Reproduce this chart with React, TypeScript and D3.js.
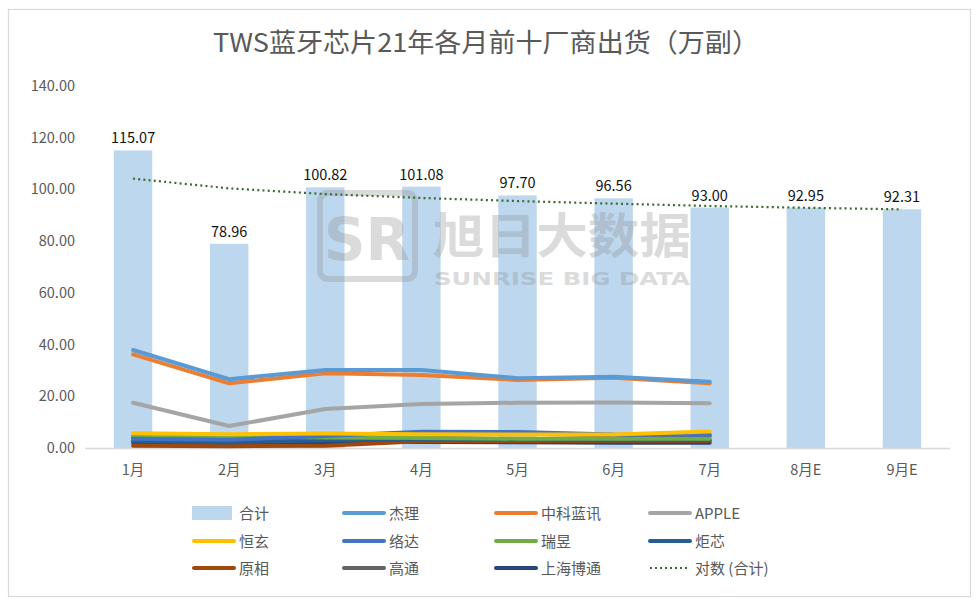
import React from "react";
import * as d3 from "d3";

const categories = ["1月", "2月", "3月", "4月", "5月", "6月", "7月", "8月E", "9月E"];
const totals = [115.07, 78.96, 100.82, 101.08, 97.7, 96.56, 93.0, 92.95, 92.31];
const trendTotals = [104.2, 100.4, 98.2, 96.7, 95.5, 94.5, 93.6, 92.9, 92.3];
const yTicks = [0, 20, 40, 60, 80, 100, 120, 140];

const jieli = [37.9, 26.6, 30.2, 30.2, 27.0, 27.6, 25.6];
const zhongke = [36.2, 25.0, 28.9, 28.2, 26.3, 27.2, 25.0];
const apple = [17.5, 8.5, 15.1, 17.0, 17.5, 17.6, 17.3];
const hengxuan = [5.7, 5.3, 5.6, 5.3, 5.2, 5.2, 6.4];
const luoda = [3.6, 3.2, 4.6, 6.3, 6.2, 5.2, 5.1];
const ruiyu = [4.6, 4.4, 4.1, 3.9, 3.6, 3.6, 3.6];
const juxin = [2.6, 2.2, 3.0, 3.3, 3.4, 3.1, 3.1];
const yuanxiang = [0.9, 0.7, 0.9, 2.6, 2.7, 2.8, 2.8];
const gaotong = [4.0, 3.6, 4.3, 4.8, 5.6, 4.8, 4.6];
const shanghaiBotong = [2.0, 1.6, 2.4, 2.3, 2.2, 2.0, 2.0];

const lineSeries = [
  { name: "杰理", values: jieli, color: "#5B9BD5" },
  { name: "中科蓝讯", values: zhongke, color: "#ED7D31" },
  { name: "APPLE", values: apple, color: "#A5A5A5" },
  { name: "恒玄", values: hengxuan, color: "#FFC000" },
  { name: "络达", values: luoda, color: "#4472C4" },
  { name: "瑞昱", values: ruiyu, color: "#70AD47" },
  { name: "炬芯", values: juxin, color: "#255E91" },
  { name: "原相", values: yuanxiang, color: "#9E480E" },
  { name: "高通", values: gaotong, color: "#636363" },
  { name: "上海博通", values: shanghaiBotong, color: "#264478" },
];

const FONT = "'Noto Sans CJK SC', 'Noto Sans', sans-serif";

export default function App() {
  const x = d3
    .scaleBand<string>()
    .domain(categories)
    .range([85, 950])
    .paddingInner(0.6)
    .paddingOuter(0.3);
  const y = d3.scaleLinear().domain([0, 140]).range([448, 86]);
  const cx = (c: string) => (x(c) as number) + x.bandwidth() / 2;

  const line = d3
    .line<number>()
    .x((_, i) => cx(categories[i]))
    .y((v) => y(v));

  const drawOrder = [...lineSeries].reverse();

  const legendItems = [
    { name: "合计", kind: "bar", color: "#BDD7EE" },
    ...lineSeries.map((s) => ({ name: s.name, kind: "line", color: s.color })),
    { name: "对数 (合计)", kind: "dot", color: "#3B6B2A" },
  ];
  const legendCols = [192, 342, 494, 648];
  const legendRows = [513, 541, 568];

  return (
    <svg
      width={978}
      height={605}
      style={{ position: "absolute", left: 0, top: 0, background: "#fff" }}
      fontFamily={FONT}
    >
      <rect x={0} y={0} width={978} height={605} fill="#fff" />
      <rect x={8.5} y={9.5} width={962} height={587} fill="#fff" stroke="#D9D9D9" strokeWidth={1.2} />

      <text x={486} y={52} textAnchor="middle" fontSize={26} fill="#595959" textLength={546} lengthAdjust="spacingAndGlyphs">
        TWS蓝牙芯片21年各月前十厂商出货（万副）
      </text>

      {yTicks.map((t) => (
        <text key={t} x={75} y={y(t) + 5} textAnchor="end" fontSize={14.5} fill="#595959">
          {t.toFixed(2)}
        </text>
      ))}

      {categories.map((c, i) => (
        <rect
          key={c}
          x={x(c)}
          y={y(totals[i])}
          width={x.bandwidth()}
          height={y(0) - y(totals[i])}
          fill="#BDD7EE"
        />
      ))}

      {/* watermark */}
      <g opacity={0.3}>
        <rect x={320} y={193} width={95} height={86} rx={8} fill="none" stroke="#8c8c8c" strokeWidth={6} />
        <text x={367} y={260} textAnchor="middle" fontSize={58} fontWeight={700} fill="#8c8c8c" fontFamily="'DejaVu Sans', sans-serif">
          SR
        </text>
        <text x={433} y={253} fontSize={48} fontWeight={700} fill="#8c8c8c" textLength={258} lengthAdjust="spacingAndGlyphs">
          旭日大数据
        </text>
        <text x={434} y={285} fontSize={17} fontWeight={700} fill="#8c8c8c" fontFamily="'DejaVu Sans', sans-serif" textLength={256} lengthAdjust="spacingAndGlyphs">
          SUNRISE BIG DATA
        </text>
      </g>

      <line x1={85} x2={950} y1={448.5} y2={448.5} stroke="#D9D9D9" strokeWidth={1.5} />

      {drawOrder.map((s) => (
        <path
          key={s.name}
          d={line(s.values) || ""}
          fill="none"
          stroke={s.color}
          strokeWidth={4}
          strokeLinejoin="round"
          strokeLinecap="round"
        />
      ))}

      <path
        d={line(trendTotals) || ""}
        fill="none"
        stroke="#3B6B2A"
        strokeWidth={2.2}
        strokeDasharray="2 3.2"
      />

      {categories.map((c, i) => (
        <text key={c} x={cx(c)} y={y(totals[i]) - 7} textAnchor="middle" fontSize={14.5} fill="#111">
          {totals[i].toFixed(2)}
        </text>
      ))}

      {categories.map((c) => (
        <text key={c} x={cx(c)} y={475} textAnchor="middle" fontSize={14.5} fill="#595959">
          {c}
        </text>
      ))}

      {legendItems.map((it, i) => {
        const lx = legendCols[i % 4];
        const ly = legendRows[Math.floor(i / 4)];
        return (
          <g key={it.name}>
            {it.kind === "bar" && <rect x={lx} y={ly - 7} width={40} height={14} fill={it.color} />}
            {it.kind === "line" && (
              <line x1={lx + 2} x2={lx + 42} y1={ly} y2={ly} stroke={it.color} strokeWidth={4} strokeLinecap="round" />
            )}
            {it.kind === "dot" && (
              <line x1={lx + 2} x2={lx + 42} y1={ly} y2={ly} stroke={it.color} strokeWidth={2.2} strokeDasharray="2 3" />
            )}
            <text x={lx + 47} y={ly + 5.5} fontSize={15} fill="#595959">
              {it.name}
            </text>
          </g>
        );
      })}
    </svg>
  );
}
